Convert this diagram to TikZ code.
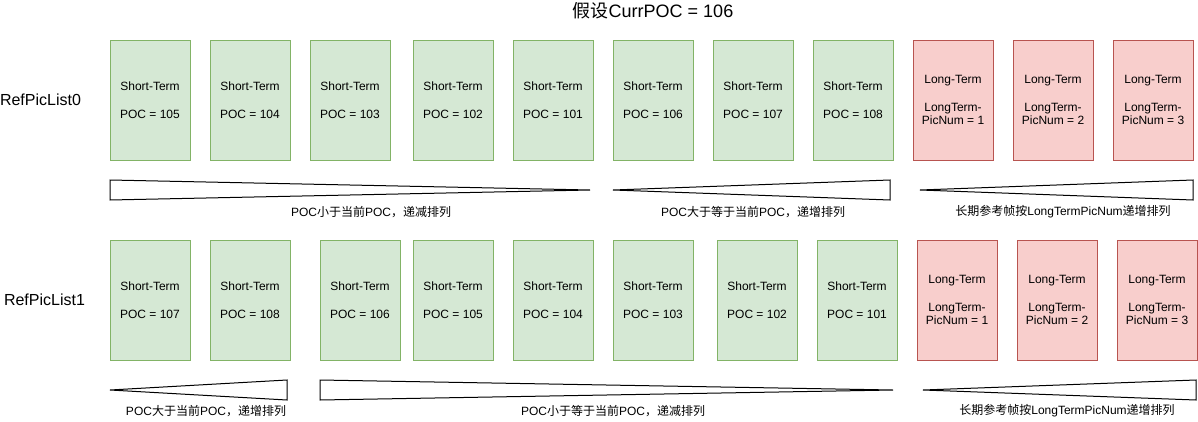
\documentclass[tikz,border=0pt]{standalone}
\usepackage{fontspec}
\setmainfont{Liberation Sans}
\newfontfamily\cjk{Noto Sans CJK SC}
\definecolor{gfill}{HTML}{D5E8D4}
\definecolor{gdraw}{HTML}{82B366}
\definecolor{rfill}{HTML}{F8CECC}
\definecolor{rdraw}{HTML}{B85450}
\begin{document}
\begin{tikzpicture}[x=0.75pt,y=-0.75pt,
  pic/.style={rectangle,minimum width=60pt,minimum height=90pt,inner sep=0pt,
    line width=0.75pt,align=center,font=\fontsize{9}{10}\selectfont},
  st/.style={pic,fill=gfill,draw=gdraw},
  lt/.style={pic,fill=rfill,draw=rdraw},
  tri/.style={draw=black,line width=0.75pt,fill=white,line join=miter},
  lab/.style={font=\fontsize{9}{11}\selectfont,inner sep=0pt},
  big/.style={font=\fontsize{12}{14}\selectfont,inner sep=0pt}]
\useasboundingbox (0,0) rectangle (1198,421);
\fill[white] (0,0) rectangle (1198,421);

\node[font=\fontsize{13.5}{16}\selectfont,inner sep=0pt] (title) at (653,11) {{\cjk 假设}CurrPOC = 106};
\node[big] (l0) at (40.5,100) {RefPicList0};
\node[big] (l1) at (44.5,300) {RefPicList1};

% Row 1
\node[st] (a1) at (150,100) {Short-Term\\[11pt]POC = 105};
\node[st] (a2) at (250,100) {Short-Term\\[11pt]POC = 104};
\node[st] (a3) at (350,100) {Short-Term\\[11pt]POC = 103};
\node[st] (a4) at (453,100) {Short-Term\\[11pt]POC = 102};
\node[st] (a5) at (553,100) {Short-Term\\[11pt]POC = 101};
\node[st] (a6) at (653,100) {Short-Term\\[11pt]POC = 106};
\node[st] (a7) at (753,100) {Short-Term\\[11pt]POC = 107};
\node[st] (a8) at (853,100) {Short-Term\\[11pt]POC = 108};
\node[lt] (a9) at (953,100) {Long-Term\\[11pt]LongTerm-\\PicNum = 1};
\node[lt] (a10) at (1053,100) {Long-Term\\[11pt]LongTerm-\\PicNum = 2};
\node[lt] (a11) at (1153,100) {Long-Term\\[11pt]LongTerm-\\PicNum = 3};

\draw[tri] (110,180) -- (110,200) -- (590,190) -- cycle;
\draw[tri] (613,190) -- (890,200) -- (890,180) -- cycle;
\draw[tri] (920,190) -- (1193,200) -- (1193,180) -- cycle;

\node[lab] (t1) at (371,212) {POC{\cjk 小于当前}POC{\cjk ，递减排列}};
\node[lab] (t2) at (753,212) {POC{\cjk 大于等于当前}POC{\cjk ，递增排列}};
\node[lab] (t3) at (1063,212) {{\cjk 长期参考帧按}LongTermPicNum{\cjk 递增排列}};

% Row 2
\node[st] (b1) at (150,300) {Short-Term\\[11pt]POC = 107};
\node[st] (b2) at (250,300) {Short-Term\\[11pt]POC = 108};
\node[st] (b3) at (360,300) {Short-Term\\[11pt]POC = 106};
\node[st] (b4) at (453,300) {Short-Term\\[11pt]POC = 105};
\node[st] (b5) at (553,300) {Short-Term\\[11pt]POC = 104};
\node[st] (b6) at (653,300) {Short-Term\\[11pt]POC = 103};
\node[st] (b7) at (757,300) {Short-Term\\[11pt]POC = 102};
\node[st] (b8) at (857,300) {Short-Term\\[11pt]POC = 101};
\node[lt] (b9) at (957,300) {Long-Term\\[11pt]LongTerm-\\PicNum = 1};
\node[lt] (b10) at (1057,300) {Long-Term\\[11pt]LongTerm-\\PicNum = 2};
\node[lt] (b11) at (1157,300) {Long-Term\\[11pt]LongTerm-\\PicNum = 3};

\draw[tri] (110,390) -- (287,400) -- (287,380) -- cycle;
\draw[tri] (320,380) -- (320,400) -- (893,390) -- cycle;
\draw[tri] (923,390) -- (1196,400) -- (1196,380) -- cycle;

\node[lab] (t4) at (206,411) {POC{\cjk 大于当前}POC{\cjk ，递增排列}};
\node[lab] (t5) at (613,411) {POC{\cjk 小于等于当前}POC{\cjk ，递减排列}};
\node[lab] (t6) at (1067,411) {{\cjk 长期参考帧按}LongTermPicNum{\cjk 递增排列}};
\end{tikzpicture}
\end{document}
